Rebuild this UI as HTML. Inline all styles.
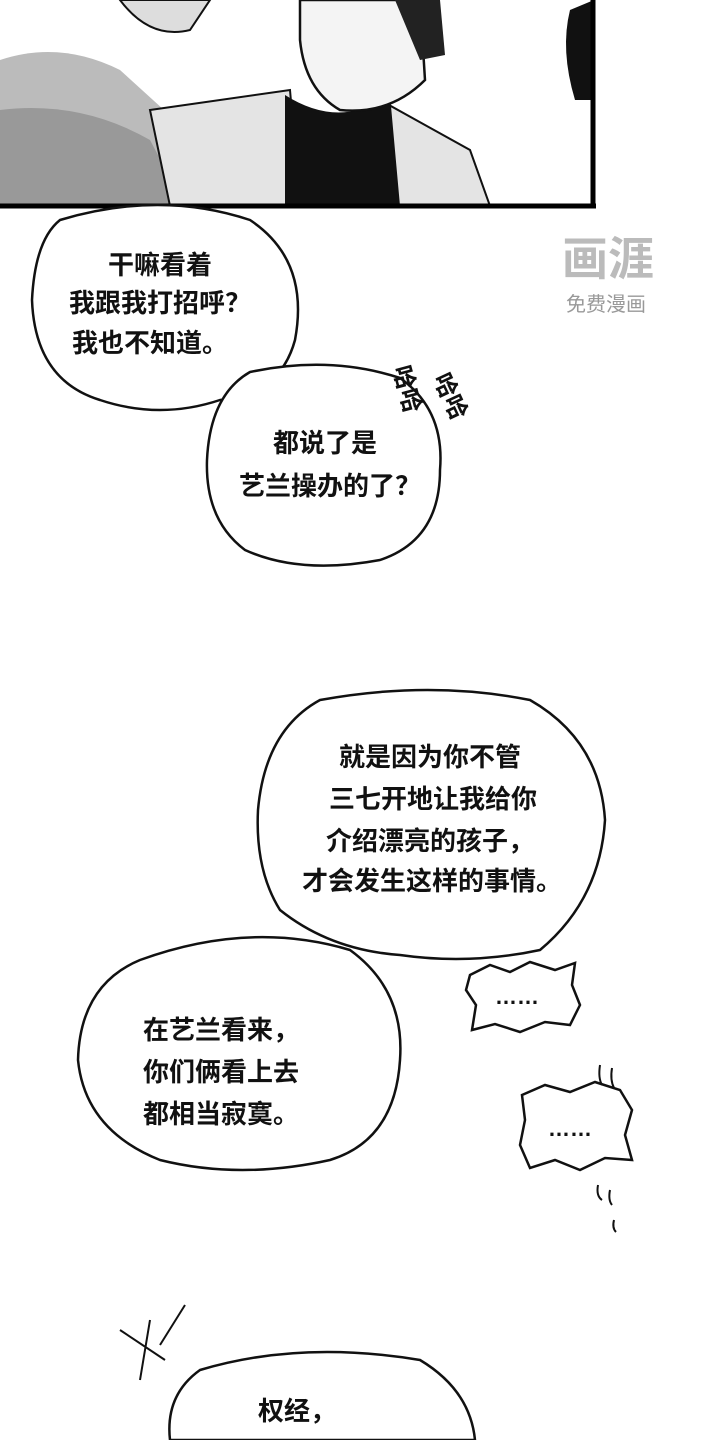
<!DOCTYPE html>
<html><head><meta charset="utf-8">
<style>
html,body{margin:0;padding:0;background:#fff;}
body{width:720px;height:1440px;overflow:hidden;}
svg{display:block;}
text{font-family:"Liberation Sans","Noto Sans CJK SC",sans-serif;fill:#111;}
.t{font-weight:bold;}
</style></head><body>
<svg width="720" height="1440" viewBox="0 0 720 1440" xmlns="http://www.w3.org/2000/svg">
<rect x="0" y="0" width="594" height="206" fill="#fff"/>
<path d="M0 60 Q60 40 120 70 L175 120 L190 206 L0 206 Z" fill="#bbb"/>
<path d="M0 110 Q80 100 150 140 L185 206 L0 206Z" fill="#999"/>
<path d="M120 0 Q150 40 190 30 L210 0Z" fill="#ddd" stroke="#111" stroke-width="2"/>
<path d="M150 110 L290 90 L300 206 L170 206Z" fill="#e4e4e4" stroke="#111" stroke-width="2"/>
<path d="M380 100 L470 150 L490 206 L395 206Z" fill="#e4e4e4" stroke="#111" stroke-width="2"/>
<path d="M285 95 Q340 130 390 95 L400 206 L285 206Z" fill="#111"/>
<path d="M300 0 L420 0 L425 80 Q390 115 340 110 Q305 90 300 40Z" fill="#f4f4f4" stroke="#111" stroke-width="2.5"/>
<path d="M395 0 L440 0 L445 55 L420 60Z" fill="#222"/>
<path d="M570 10 Q560 50 575 100 L594 100 L594 0Z" fill="#111"/>
<line x1="0" y1="206" x2="596" y2="206" stroke="#000" stroke-width="5"/>
<line x1="593" y1="0" x2="593" y2="208" stroke="#000" stroke-width="5"/>

<text x="562" y="275" font-size="46" font-weight="bold" style="fill:#bbb">画涯</text>
<text x="566" y="311" font-size="20" style="fill:#999">免费漫画</text>

<path d="M60 220 Q160 190 250 220 Q310 260 295 340 Q280 395 220 400 Q160 420 100 400 Q35 380 32 300 Q35 240 60 220Z" fill="#fff" stroke="#111" stroke-width="2.5"/>
<g font-size="26" text-anchor="middle" class="t">
<text x="160" y="274" class="t">干嘛看着</text>
<text x="160" y="312" class="t">我跟我打招呼？</text>
<text x="150" y="352" class="t">我也不知道。</text>
</g>
<path d="M250 372 Q330 355 400 378 Q445 410 440 470 Q440 540 380 560 Q300 575 245 550 Q205 520 207 460 Q210 395 250 372Z" fill="#fff" stroke="#111" stroke-width="2.5"/>
<g font-size="26" text-anchor="middle">
<text x="325" y="452" class="t">都说了是</text>
<text x="330" y="495" class="t">艺兰操办的了？</text>
</g>
<g font-size="24" font-weight="bold">
<text transform="translate(393,368) rotate(75)" class="t">哈哈</text>
<text transform="translate(433,378) rotate(65)" class="t">哈哈</text>
</g>

<path d="M320 700 Q430 680 530 700 Q600 740 605 820 Q600 900 540 950 Q470 965 400 955 Q330 950 280 910 Q255 870 258 810 Q265 730 320 700Z" fill="#fff" stroke="#111" stroke-width="2.5"/>
<g font-size="26" text-anchor="middle">
<text x="430" y="766" class="t">就是因为你不管</text>
<text x="433" y="808" class="t">三七开地让我给你</text>
<text x="430" y="850" class="t">介绍漂亮的孩子，</text>
<text x="432" y="890" class="t">才会发生这样的事情。</text>
</g>
<path d="M140 960 Q250 920 350 950 Q405 990 400 1060 Q395 1140 330 1160 Q240 1180 160 1160 Q85 1130 78 1060 Q80 985 140 960Z" fill="#fff" stroke="#111" stroke-width="2.5"/>
<g font-size="26">
<text x="143" y="1039" class="t">在艺兰看来，</text>
<text x="143" y="1081" class="t">你们俩看上去</text>
<text x="143" y="1123" class="t">都相当寂寞。</text>
</g>

<path d="M470 975 L490 965 L510 972 L530 962 L555 970 L575 963 L572 985 L580 1005 L570 1025 L545 1022 L520 1032 L495 1024 L472 1030 L476 1005 L466 990Z" fill="#fff" stroke="#111" stroke-width="2.5"/>
<text x="495" y="1004" font-size="22" class="t">……</text>
<path d="M522 1095 L545 1085 L570 1092 L595 1082 L620 1090 L632 1110 L625 1135 L632 1160 L605 1158 L580 1170 L555 1160 L530 1168 L520 1145 L525 1120Z" fill="#fff" stroke="#111" stroke-width="2.5"/>
<text x="548" y="1136" font-size="22" class="t">……</text>
<g fill="none" stroke="#111" stroke-width="2">
<path d="M600 1065 Q598 1078 602 1085"/><path d="M612 1068 Q610 1080 614 1088"/>
<path d="M598 1185 Q596 1196 602 1200"/><path d="M610 1190 Q608 1200 612 1205"/>
<path d="M614 1220 Q612 1228 616 1232"/>
<path d="M120 1330 L165 1360"/><path d="M150 1320 L140 1380"/><path d="M185 1305 L160 1345"/>
</g>

<path d="M200 1370 Q300 1340 420 1360 Q470 1390 475 1440 L170 1440 Q165 1395 200 1370Z" fill="#fff" stroke="#111" stroke-width="2.5"/>
<text x="258" y="1420" font-size="26" class="t">权经，</text>
</svg>
</body></html>
